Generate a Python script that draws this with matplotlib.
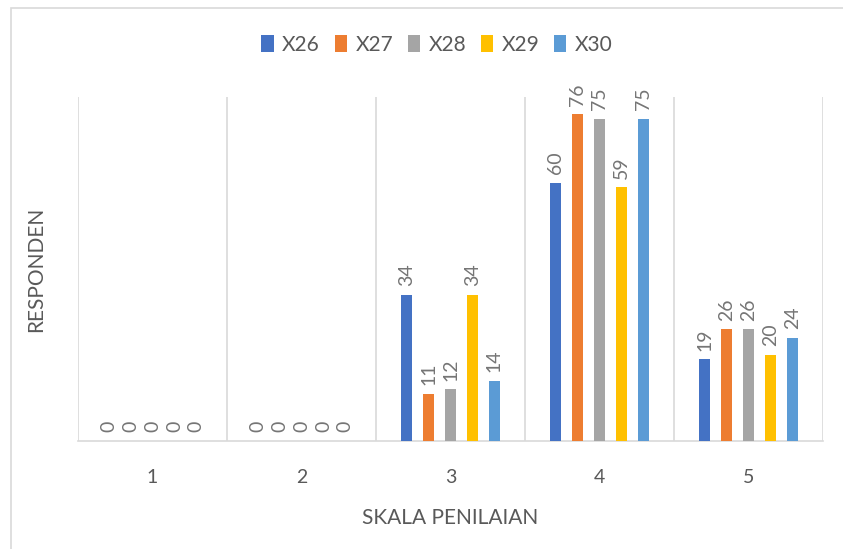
import matplotlib.pyplot as plt
import numpy as np
from matplotlib.patches import Rectangle

plt.rcParams['font.family'] = ['Lato', 'DejaVu Sans']

# data
categories = ['1', '2', '3', '4', '5']
series = ['X26', 'X27', 'X28', 'X29', 'X30']
x26 = [0, 0, 34, 60, 19]
x27 = [0, 0, 11, 76, 26]
x28 = [0, 0, 12, 75, 26]
x29 = [0, 0, 34, 59, 20]
x30 = [0, 0, 14, 75, 24]
values = [x26, x27, x28, x29, x30]
colors = ['#4472C4', '#ED7D31', '#A5A5A5', '#FFC000', '#5B9BD5']

txt = '#595959'
grid = '#D9D9D9'

fig = plt.figure(figsize=(8.43, 5.49), dpi=100)
ax = fig.add_axes([78 / 843, 108 / 549, 745 / 843, 344 / 549])

# chart border (cut off at right and bottom)
fig.patches.append(Rectangle((11 / 843, -0.1), 1.1, (549 - 7.5) / 549 + 0.1,
                             transform=fig.transFigure, fill=False,
                             edgecolor=grid, linewidth=1.2))

xAxis = np.arange(len(categories))
width = 0.074
pitch = 0.147
for i, (name, vals) in enumerate(zip(series, values)):
    offset = (i - 2) * pitch
    bars = ax.bar(xAxis + offset, vals, width, color=colors[i], label=name, zorder=3)
    for b, v in zip(bars, vals):
        ax.text(b.get_x() + b.get_width() / 2, v + 2.0, str(v), rotation=90,
                ha='center', va='bottom', fontsize=14, color='#757575')

ax.set_xlim(-0.5, len(categories) - 0.5)
ax.set_ylim(0, 80)
ax.set_xticks(xAxis)
ax.set_xticklabels(categories)
ax.set_xticks(np.arange(-0.5, len(categories)), minor=True)
ax.tick_params(axis='x', which='both', length=0, labelsize=14, labelcolor=txt, pad=20)
ax.set_yticks([])
ax.grid(axis='x', which='minor', color=grid, linewidth=1.2, zorder=0)
for s in ['top', 'right', 'left']:
    ax.spines[s].set_visible(False)
ax.spines['bottom'].set_color(grid)
ax.spines['bottom'].set_linewidth(1.2)

ax.set_xlabel('SKALA PENILAIAN', fontsize=15, color=txt, labelpad=16)
ax.set_ylabel('RESPONDEN', fontsize=15, color=txt, labelpad=23)

fig.legend(loc='center', bbox_to_anchor=(437 / 843, 1 - 45 / 549), ncol=5,
           frameon=False, fontsize=15, handlelength=0.6, handleheight=0.9,
           handletextpad=0.4, columnspacing=0.7, labelcolor=txt)

fig.savefig('out.png', dpi=100)
